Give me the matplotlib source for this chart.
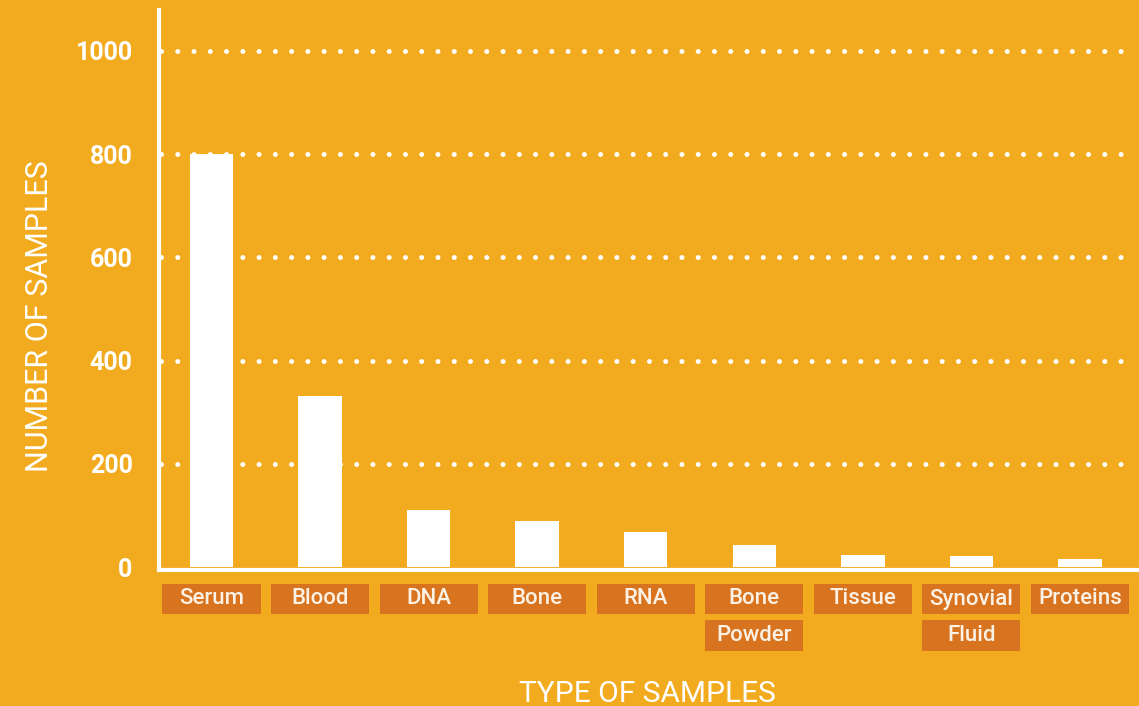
import matplotlib.pyplot as plt
import matplotlib.transforms as mtransforms
from matplotlib.patches import Rectangle

# sample counts per type
categories = ['Serum', 'Blood', 'DNA', 'Bone', 'RNA', 'Bone Powder', 'Tissue', 'Synovial Fluid', 'Proteins']
counts = [800, 331, 110, 89, 68, 43, 23, 21, 16]
yticks = [0, 200, 400, 600, 800, 1000]

bg = '#F2AB1F'
box_col = '#D87420'
white = '#FFFFFF'

plt.rcParams['font.family'] = ['Roboto', 'DejaVu Sans']
plt.rcParams['lines.scale_dashes'] = False

fig = plt.figure(figsize=(11.39, 7.06), dpi=100, facecolor=bg)
ax = fig.add_axes([0.1396, 0.1932, 0.8600, 0.7931])
ax.set_facecolor(bg)

x = list(range(len(categories)))
ax.bar(x, counts, width=0.40, color=white, zorder=3)

ax.set_xlim(-0.484, 8.54)
ax.set_ylim(-5, 1080)
ax.set_yticks(yticks)
ax.set_yticklabels([str(v) for v in yticks], fontsize=18, fontweight='bold', color=white)
ax.tick_params(axis='y', length=0, pad=19)
ax.set_xticks([])

for s in ['top', 'right']:
    ax.spines[s].set_visible(False)
for s in ['left', 'bottom']:
    ax.spines[s].set_color(white)
    ax.spines[s].set_linewidth(3)
    ax.spines[s].set_zorder(1)

# dotted gridlines
for v in yticks[1:]:
    ax.axhline(v, xmin=0.002, xmax=0.995, color=white, linewidth=3.6,
               linestyle=(0, (0.01, 11.7)), dash_capstyle='round', zorder=2)

fig.text(40 / 1139, 1 - 316 / 706, 'NUMBER OF SAMPLES', rotation=90, ha='center', va='center',
         fontsize=22, color=white)

# category label boxes under the axis
trans = mtransforms.blended_transform_factory(ax.transData, fig.transFigure)
rows = [(584, 614), (620, 650.5)]
H = 706.0
for i, name in enumerate(categories):
    for j, word in enumerate(name.split(' ')):
        top, bot = rows[j]
        ax.add_patch(Rectangle((i - 0.452, 1 - bot / H), 0.904, (bot - top) / H,
                               transform=trans, facecolor=box_col, edgecolor='none',
                               clip_on=False))
        ax.text(i, 1 - (top + bot) / 2 / H, word, transform=trans, ha='center', va='center',
                fontsize=16, fontweight='medium', color='#FBF1E4', clip_on=False)

fig.text(0.568, (706 - 702) / H, 'TYPE OF SAMPLES', ha='center', va='baseline',
         fontsize=21.5, color=white)

fig.savefig('out.png', dpi=100, facecolor=bg)
